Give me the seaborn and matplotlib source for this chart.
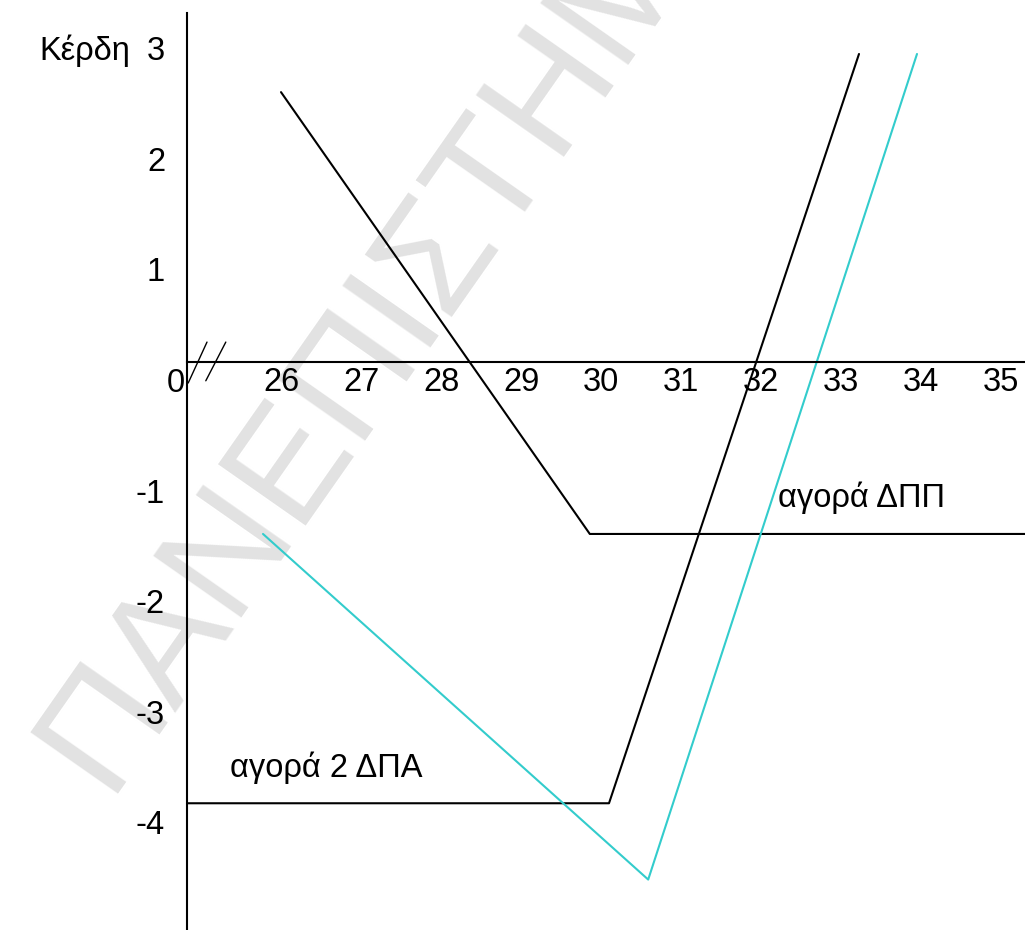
import matplotlib

matplotlib.use("Agg")

import matplotlib.pyplot as plt
import matplotlib.transforms as mtransforms
import pandas as pd
import seaborn as sns

# payoff lines (price, profit)
put_price = [26.0, 29.86, 35.3]
put_profit = [2.44, -1.555, -1.555]
call_price = [24.825, 30.10, 33.225]
call_profit = [-3.99, -3.99, 2.785]
combo_price = [25.775, 30.59, 33.95]
combo_profit = [-1.555, -4.68, 2.785]

x_ticks = [26, 27, 28, 29, 30, 31, 32, 33, 34, 35]
y_ticks = [3, 2, 1, -1, -2, -3, -4]

# axis-break "//" marks next to the origin
break_a_x = [24.84, 25.075]
break_a_y = [-0.19, 0.18]
break_b_x = [25.06, 25.31]
break_b_y = [-0.17, 0.18]

lines = pd.concat(
    [
        pd.DataFrame({"price": put_price, "profit": put_profit, "series": "put"}),
        pd.DataFrame({"price": call_price, "profit": call_profit, "series": "call"}),
        pd.DataFrame({"price": combo_price, "profit": combo_profit, "series": "combo"}),
    ],
    ignore_index=True,
)

sns.set_theme(style="white")
plt.rcParams["font.family"] = ["Liberation Sans", "DejaVu Sans"]
plt.rcParams["axes.unicode_minus"] = False

font_size = 23.5

fig = plt.figure(figsize=(10.25, 9.3), dpi=100)
ax = fig.add_axes([0, 0, 1, 1])
ax.patch.set_visible(False)

sns.lineplot(
    data=lines,
    x="price",
    y="profit",
    hue="series",
    palette={"put": "black", "call": "black", "combo": "#33cccc"},
    sort=False,
    estimator=None,
    linewidth=1.5,
    legend=False,
    ax=ax,
)
ax.plot(break_a_x, break_a_y, color="black", linewidth=1.0)
ax.plot(break_b_x, break_b_y, color="black", linewidth=1.0)

ax.set_xlim(22.4875, 35.3)
ax.set_ylim(-5.136, 3.273)
ax.set_xlabel("")
ax.set_ylabel("")

for side in ["top", "right"]:
    ax.spines[side].set_visible(False)
ax.spines["left"].set_position(("data", 24.825))
ax.spines["left"].set_bounds(-5.136, 3.155)
ax.spines["bottom"].set_position(("data", 0))
ax.spines["bottom"].set_bounds(24.825, 35.3)
for side in ["left", "bottom"]:
    ax.spines[side].set_linewidth(1.5)
    ax.spines[side].set_color("black")

ax.set_xticks(x_ticks)
ax.set_yticks(y_ticks)
ax.tick_params(axis="x", length=0, pad=3.5, labelsize=font_size, labelcolor="black")
ax.tick_params(axis="y", length=0, pad=15.8, labelsize=font_size, labelcolor="black")

shift = mtransforms.ScaledTranslation(0, -0.18, fig.dpi_scale_trans)
for label in ax.get_yticklabels():
    label.set_transform(label.get_transform() + shift)

ax.text(24.8, 0, "0", ha="right", va="center_baseline", fontsize=font_size,
        color="black", transform=ax.transData + shift)
fig.text(130 / 1025, 1 - 60 / 930, "Κέρδη", ha="right", va="baseline",
         fontsize=font_size, color="black")
ax.text(32.21, -1.31, "αγορά ΔΠΠ", ha="left", va="baseline", fontsize=font_size, color="black")
ax.text(25.36, -3.75, "αγορά 2 ΔΠΑ", ha="left", va="baseline", fontsize=font_size, color="black")

fig.text(106 / 1025, 1 - 794 / 930, "ΠΑΝΕΠΙΣΤΗΜΙΟ", rotation=55, rotation_mode="anchor",
         ha="left", va="baseline", fontsize=112, color="#e2e2e2", zorder=-1)

fig.savefig("out.png", dpi=100)
